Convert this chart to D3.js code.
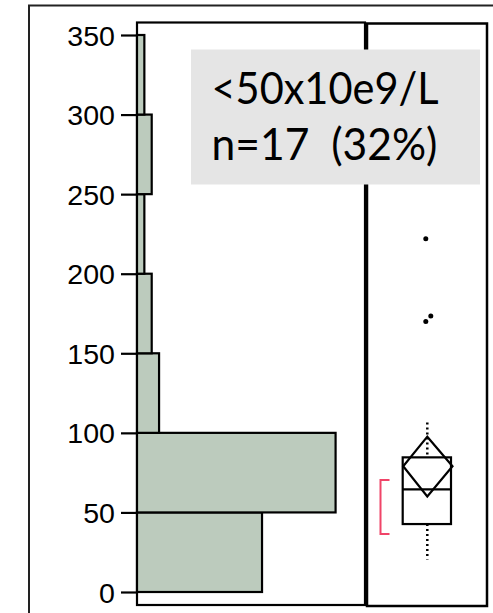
<!DOCTYPE html>
<html><head><meta charset="utf-8">
<script src="https://cdn.jsdelivr.net/npm/d3@7"></script>
<style>body{margin:0;background:#fff}svg{display:block}</style>
</head><body>
<script>
// ---- data ----
const binEdges = [0, 50, 100, 150, 200, 250, 300, 350];
const binCounts = [17, 27, 3, 2, 1, 2, 1];
const yTicks = [0, 50, 100, 150, 200, 250, 300, 350];
const boxQuartiles = [42.7, 64.5, 84.6];      // q1, median, q3
const boxWhiskers = [20.5, 106.5];            // low, high
const meanDiamond = [60, 79, 97.6];           // ci low, mean, ci high
const shortestHalf = [36.4, 70.4];
const outlierValues = [222, 170, 173.5];
const outlierJitter = [-1.5, -1.5, 3.5];
const labelLines = ["<50x10e9/L", "n=17  (32%)"];

const W = 493, H = 613;
const svg = d3.select("body").append("svg").attr("width", W).attr("height", H);

const y = d3.scaleLinear().domain([0, 350]).range([592, 35]);
const histLeft = 137, histRight = 365, panelTop = 22.5, panelBottom = 605;
const x = d3.scaleLinear().domain([0, 31]).range([histLeft, histRight]);

// outer frame (top & left)
svg.append("path").attr("d", `M29,${H+5} V5.5 H${W+5}`)
  .attr("fill", "none").attr("stroke", "#222").attr("stroke-width", 2);

// histogram panel frame
svg.append("rect").attr("x", histLeft).attr("y", panelTop)
  .attr("width", histRight - histLeft).attr("height", panelBottom - panelTop)
  .attr("fill", "none").attr("stroke", "#000").attr("stroke-width", 2.2);

// bars
const bins = binCounts.map((c, i) => ({c, lo: binEdges[i], hi: binEdges[i + 1]}));
svg.append("g").selectAll("rect").data(bins).join("rect")
  .attr("x", x(0)).attr("y", d => y(d.hi))
  .attr("width", d => x(d.c) - x(0)).attr("height", d => y(d.lo) - y(d.hi))
  .attr("fill", "#bccbbd").attr("stroke", "#000").attr("stroke-width", 2.2);

// y axis
const ax = svg.append("g").attr("transform", `translate(${histLeft},0)`)
  .call(d3.axisLeft(y).tickValues(yTicks).tickSize(16).tickPadding(0).tickSizeOuter(0));
ax.select(".domain").remove();
ax.selectAll(".tick line").attr("stroke", "#000").attr("stroke-width", 2.2);
ax.selectAll(".tick text")
  .attr("x", null).attr("dy", null)
  .attr("font-family", "Liberation Sans, Arial, sans-serif").attr("font-size", 28)
  .attr("fill", "#000").attr("text-anchor", "end")
  .attr("transform", "translate(-22,10) scale(1.02,1)");

// box plot panel
const boxLeft = 367, boxRight = 487;
svg.append("rect").attr("x", boxLeft).attr("y", 23.5)
  .attr("width", boxRight - boxLeft).attr("height", 606 - 23.5)
  .attr("fill", "none").attr("stroke", "#000").attr("stroke-width", 2.5);

// label box (on top of panel frames)
svg.append("rect").attr("x", 191).attr("y", 49.5).attr("width", 289).attr("height", 135)
  .attr("fill", "#e5e5e5");
const lblText = svg.append("g").attr("font-family", "Lato, sans-serif").attr("fill", "#000");
lblText.selectAll("text").data(labelLines).join("text")
  .attr("x", 211.5).attr("y", (d, i) => i === 0 ? 103.5 : 160)
  .attr("font-size", 45)
  .attr("textLength", (d, i) => i === 0 ? 227 : 226)
  .attr("lengthAdjust", "spacingAndGlyphs")
  .style("white-space", "pre")
  .text(d => d);

const cx = 427.3, bx0 = 402.7, bx1 = 451;
// whiskers (dotted)
svg.append("line").attr("x1", cx).attr("x2", cx).attr("y1", y(boxWhiskers[1])).attr("y2", y(boxQuartiles[2]))
  .attr("stroke", "#000").attr("stroke-width", 2.5).attr("stroke-dasharray", "2,3");
svg.append("line").attr("x1", cx).attr("x2", cx).attr("y1", y(boxQuartiles[0])).attr("y2", y(boxWhiskers[0]))
  .attr("stroke", "#000").attr("stroke-width", 2.5).attr("stroke-dasharray", "2,3");
// box
svg.append("rect").attr("x", bx0).attr("y", y(boxQuartiles[2]))
  .attr("width", bx1 - bx0).attr("height", y(boxQuartiles[0]) - y(boxQuartiles[2]))
  .attr("fill", "none").attr("stroke", "#000").attr("stroke-width", 2.2);
svg.append("line").attr("x1", bx0).attr("x2", bx1).attr("y1", y(boxQuartiles[1])).attr("y2", y(boxQuartiles[1]))
  .attr("stroke", "#000").attr("stroke-width", 2.2);
// mean diamond
svg.append("path")
  .attr("d", `M${cx},${y(meanDiamond[2])} L${bx1 + 1.5},${y(meanDiamond[1])} L${cx},${y(meanDiamond[0])} L${bx0 + 0.5},${y(meanDiamond[1])} Z`)
  .attr("fill", "none").attr("stroke", "#000").attr("stroke-width", 2.2);
// shortest half bracket
svg.append("path")
  .attr("d", `M389.5,${y(shortestHalf[1])} H380.5 V${y(shortestHalf[0])} H389.5`)
  .attr("fill", "none").attr("stroke", "#f04468").attr("stroke-width", 2);
// outliers
svg.append("g").selectAll("circle").data(outlierValues).join("circle")
  .attr("cx", (d, i) => cx + outlierJitter[i]).attr("cy", d => y(d))
  .attr("r", 2.5).attr("fill", "#000");
</script>
</body></html>
